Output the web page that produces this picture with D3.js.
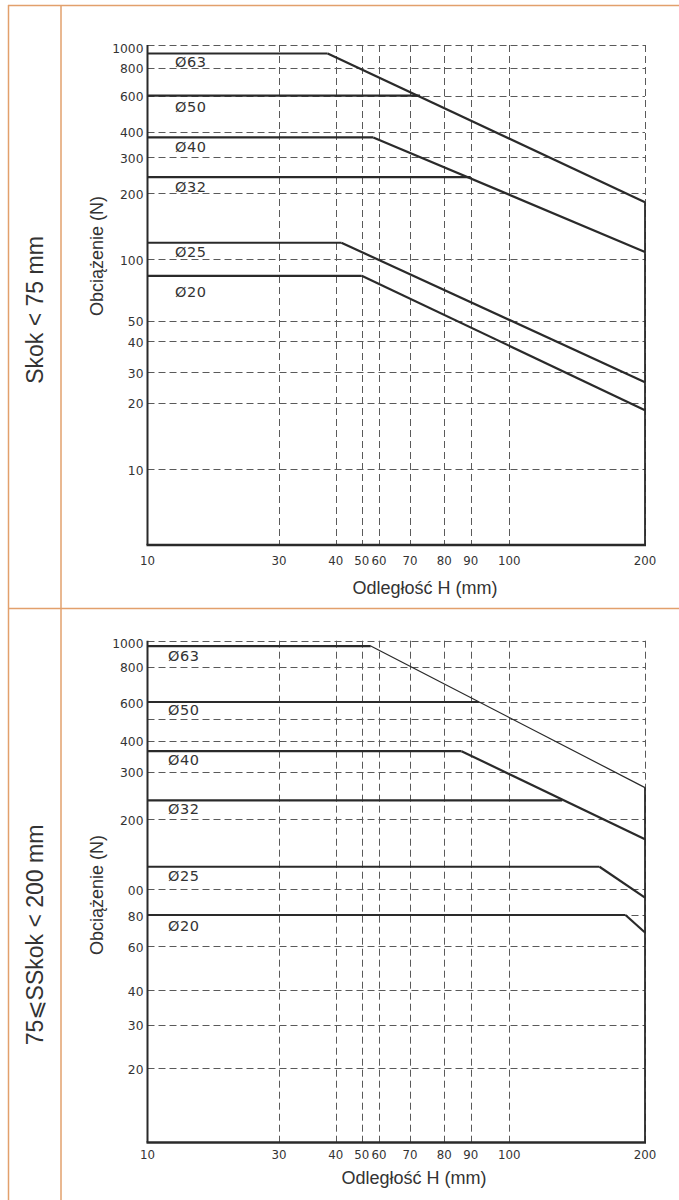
<!DOCTYPE html>
<html><head><meta charset="utf-8">
<script src="https://cdn.jsdelivr.net/npm/d3@7"></script>
<style>html,body{margin:0;padding:0;background:#fff}</style>
</head><body><div id="chart"></div>
<script>
// ---------- data ----------
const diameters = ["Ø63","Ø50","Ø40","Ø32","Ø25","Ø20"];
const xTicks = [10,30,40,50,60,70,80,90,100,200];
const xTickLabels = ["10","30","40","50","60","70","80","90","100","200"];
// chart 1: Skok < 75 mm
const shortYTicks = [1000,800,600,400,300,200,100,50,40,30,20,10];
const shortYLabels = ["1000","800","600","400","300","200","100","50","40","30","20","10"];
const shortLoad = [920,600,375,240,119,83];
const shortKnee = [38.4,72.8,56.5,90,42,50];
const shortEnd  = [182,null,108,null,26.2,18.5];
// chart 2: 75 ≤ Skok < 200 mm
const longYTicks = [1000,800,600,500,400,300,200,100,80,60,40,30,20];
const longYLabels = ["1000","800","600","","400","300","200","00","80","60","40","30","20"];
const longLoad = [955,600,363,235,125,80];
const longKnee = [55,92,86.4,131,158.5,181];
const longEnd  = [262,null,164,null,93,68];
const rowTitles = ["Skok < 75 mm","75⩽SSkok < 200 mm"];
const xTitle = "Odległość H (mm)";
const yTitle = "Obciążenie (N)";

// ---------- layout ----------
const W = 679, H = 1200;
const plotLeft = 147.5, plotRight = 645;
const xOffsets = [0,131.5,188.2,214.2,231.5,262.5,296.8,323.2,361.8,497.5];
const panels = [
  {top:45, bottom:545,
   yOffsets:[0,22.7,50.7,86.7,112.3,148.3,214.3,275.7,296.3,327,357.7,424.3],
   yTicks:shortYTicks, yLabels:shortYLabels, load:shortLoad, knee:shortKnee, end:shortEnd,
   thinSlope:[], labelX:175, labelDy:[8.4,11,9.4,10,9.6,16],
   xLabY:561, xTitleY:588, xTitleX:425, yTitleY:256, rowY:310, title:rowTitles[0]},
  {top:640.7, bottom:1142.5,
   yOffsets:[0,26,61.3,78.3,100,131,178.6,248.6,274.3,305.3,349.3,384,427.6],
   yTicks:longYTicks, yLabels:longYLabels, load:longLoad, knee:longKnee, end:longEnd,
   thinSlope:[0], labelX:168, labelDy:[10,7.6,9,9,9.3,10.6],
   xLabY:1155, xTitleY:1178, xTitleX:414, yTitleY:895, rowY:935, title:rowTitles[1]}
];
const orange = "#e2a06c";
const ink = "#2a2a2a";
const gridCol = "#5a5a5a";

const svg = d3.select("#chart").append("svg")
  .attr("width", W).attr("height", H).style("display","block");
svg.append("rect").attr("width",W).attr("height",H).attr("fill","#fff");

// table borders
const tb = svg.append("g").attr("stroke", orange).attr("stroke-width", 1.5).attr("fill","none");
tb.append("line").attr("x1",8).attr("x2",W).attr("y1",5.5).attr("y2",5.5);
tb.append("line").attr("x1",8).attr("x2",W).attr("y1",608.5).attr("y2",608.5);
tb.append("line").attr("x1",8.5).attr("x2",8.5).attr("y1",5).attr("y2",H);
tb.append("line").attr("x1",61).attr("x2",61).attr("y1",5).attr("y2",H);

const x = d3.scaleLog().domain(xTicks).range(xOffsets.map(o => plotLeft + o));

panels.forEach(p => {
  const y = d3.scaleLog().domain(p.yTicks).range(p.yOffsets.map(o => p.top + o));
  const g = svg.append("g");

  // row title
  g.append("text")
    .attr("transform", `translate(35,${p.rowY}) rotate(-90)`)
    .attr("text-anchor","middle").attr("dominant-baseline","central")
    .attr("font-family","'Liberation Sans', Arial, 'DejaVu Sans', sans-serif")
    .attr("font-size",23).attr("fill","#333").text(p.title);

  // grid
  const grid = g.append("g").attr("stroke",gridCol).attr("stroke-width",1)
    .attr("stroke-dasharray","7,4").attr("fill","none");
  grid.selectAll(".h").data(p.yTicks).join("line")
    .attr("x1",plotLeft).attr("x2",plotRight)
    .attr("y1",d=>Math.round(y(d))+0.5).attr("y2",d=>Math.round(y(d))+0.5);
  grid.selectAll(".v").data(xTicks.slice(1)).join("line")
    .attr("x1",d=>Math.round(x(d))+0.5).attr("x2",d=>Math.round(x(d))+0.5)
    .attr("y1",p.top).attr("y2",p.bottom);

  // right edge solid part (below the highest curve end)
  const ends = p.end.filter(v => v != null);
  g.append("line").attr("stroke",ink).attr("stroke-width",1.8)
    .attr("x1",x(200)).attr("x2",x(200))
    .attr("y1",y(d3.max(ends))).attr("y2",p.bottom);

  // axes
  g.append("line").attr("stroke",ink).attr("stroke-width",2)
    .attr("x1",plotLeft).attr("x2",plotLeft).attr("y1",p.top).attr("y2",p.bottom);
  g.append("line").attr("stroke",ink).attr("stroke-width",2.5)
    .attr("x1",plotLeft-1).attr("x2",plotRight+1).attr("y1",p.bottom).attr("y2",p.bottom);

  // series
  const line = d3.line().x(d=>x(d[0])).y(d=>y(d[1]));
  diameters.forEach((name,i) => {
    g.append("path").attr("fill","none").attr("stroke",ink).attr("stroke-width",2.2)
      .attr("d", line([[10,p.load[i]],[p.knee[i],p.load[i]]]));
    if (p.end[i] != null) {
      g.append("path").attr("fill","none").attr("stroke",ink)
        .attr("stroke-width", p.thinSlope.includes(i) ? 1.2 : 2.2)
        .attr("stroke-linejoin","round")
        .attr("d", line([[p.knee[i],p.load[i]],[200,p.end[i]]]));
    }
    g.append("text").attr("x",p.labelX).attr("y",y(p.load[i]) + p.labelDy[i])
      .attr("dominant-baseline","central")
      .attr("font-family","'DejaVu Sans', sans-serif").attr("font-size",14.5)
      .attr("letter-spacing",0.5).attr("fill","#333").text(name);
  });

  // y tick labels
  g.selectAll(".yl").data(p.yTicks).join("text")
    .attr("x",plotLeft-4).attr("y",(d,i)=>y(d)+(i===0?3.5:1.5))
    .attr("text-anchor","end").attr("dominant-baseline","central")
    .attr("font-family","'DejaVu Sans', sans-serif").attr("font-size",12.3)
    .attr("fill","#333").text((d,i)=>p.yLabels[i]);

  // x tick labels
  g.selectAll(".xl").data(xTicks).join("text")
    .attr("x",d=>x(d)).attr("y",p.xLabY)
    .attr("text-anchor","middle").attr("dominant-baseline","central")
    .attr("font-family","'DejaVu Sans', sans-serif").attr("font-size",11.8)
    .attr("fill","#333").text((d,i)=>xTickLabels[i]);

  // axis titles
  g.append("text").attr("x",p.xTitleX).attr("y",p.xTitleY)
    .attr("text-anchor","middle").attr("dominant-baseline","central")
    .attr("font-family","'Liberation Sans', Arial, sans-serif").attr("font-size",18)
    .attr("fill","#333").text(xTitle);
  g.append("text")
    .attr("transform",`translate(97,${p.yTitleY}) rotate(-90)`)
    .attr("text-anchor","middle").attr("dominant-baseline","central")
    .attr("font-family","'Liberation Sans', Arial, sans-serif").attr("font-size",18)
    .attr("fill","#333").text(yTitle);
});
</script>
</body></html>
